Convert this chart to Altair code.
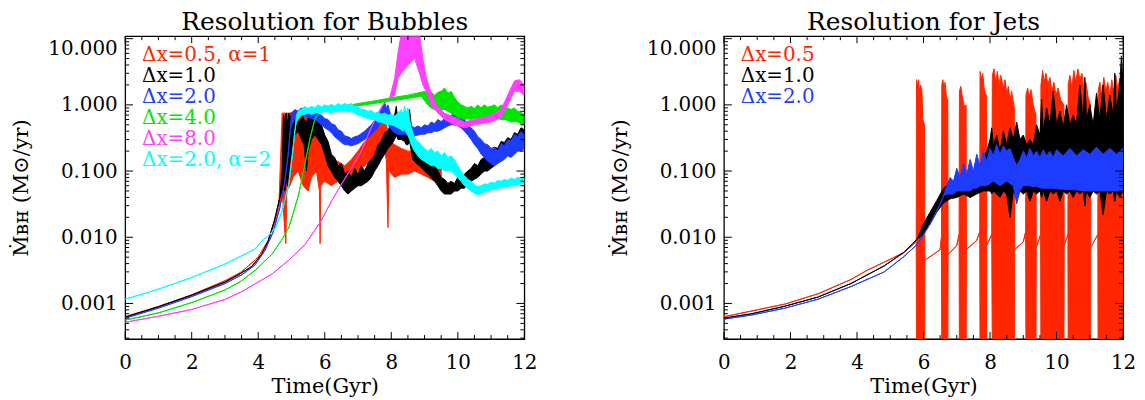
import altair as alt
import pandas as pd

# ---------------- colours ----------------
RED, BLACK, BLUE, GREEN, MAGENTA, CYAN = "#ff2600", "#000000", "#1e3cff", "#00e600", "#ff40ff", "#00ffff"

# ================= LEFT PANEL: Resolution for Bubbles =================
# each run: a smooth early part (time, value) and a noisy band (time, low, high)
RED_L_QT = [0, 1, 2, 3, 3.5, 4.0, 4.3, 4.5, 4.62]
RED_L_QV = [0.00063, 0.0009, 0.00135, 0.0022, 0.003, 0.005, 0.009, 0.017, 0.03]
RED_L_BT = [4.65, 4.72, 4.8, 4.83, 4.86, 4.95, 5.05, 5.2, 5.35, 5.5, 5.6, 5.75, 5.84, 5.86, 5.88, 6.0, 6.2, 6.4,
            6.6, 6.8, 7.0, 7.2, 7.4, 7.6, 7.75, 7.85, 7.9, 7.93, 8.1, 8.3, 8.5, 8.7, 8.9, 9.1, 9.3, 9.5]
RED_L_LO = [0.03, 0.05, 0.012, 0.008, 0.05, 0.06, 0.08, 0.1, 0.06, 0.05, 0.08, 0.1, 0.05, 0.008, 0.06, 0.07, 0.06, 0.07,
            0.06, 0.08, 0.1, 0.12, 0.15, 0.2, 0.25, 0.15, 0.014, 0.1, 0.08, 0.09, 0.09, 0.1, 0.09, 0.08, 0.07, 0.07]
RED_L_HI = [0.08, 0.75, 0.75, 0.75, 0.75, 0.75, 0.78, 0.8, 0.8, 0.75, 0.6, 0.5, 0.4, 0.4, 0.35, 0.2, 0.15, 0.14,
            0.12, 0.15, 0.2, 0.28, 0.35, 0.45, 0.55, 0.5, 0.4, 0.3, 0.25, 0.22, 0.2, 0.2, 0.16, 0.14, 0.12, 0.11]

BLACK_L_QT = [0, 1, 2, 3, 3.4, 3.8, 4.1, 4.3, 4.5, 4.65]
BLACK_L_QV = [0.00062, 0.00089, 0.00133, 0.0021, 0.0027, 0.0036, 0.0055, 0.0087, 0.019, 0.04]
BLACK_L_BT = [4.72, 4.76, 4.8, 4.84, 4.88, 4.92, 4.96, 5.0, 5.05, 5.1, 5.2, 5.3, 5.38, 5.45, 5.5, 5.6, 5.7, 5.8,
              5.9, 6.0, 6.1, 6.2, 6.3, 6.4, 6.5, 6.6, 6.7, 6.8, 6.9, 7.0, 7.1, 7.2, 7.3, 7.4, 7.5, 7.6, 7.7, 7.8,
              7.9, 8.0, 8.1, 8.15, 8.2, 8.3, 8.4, 8.45, 8.5, 8.55, 8.6, 8.65, 8.75, 8.85, 9.0, 9.1, 9.2, 9.3,
              9.4, 9.5, 9.6, 9.7, 9.8, 9.9, 10.0, 10.1, 10.2, 10.3, 10.4, 10.5, 10.6, 10.7, 10.8, 10.9, 11.0,
              11.1, 11.2, 11.3, 11.4, 11.5, 11.6, 11.7, 11.8, 11.9, 12.0]
BLACK_L_LO = [0.05, 0.06, 0.05, 0.08, 0.06, 0.1, 0.15, 0.2, 0.3, 0.35, 0.4, 0.3, 0.25, 0.1, 0.2, 0.3, 0.35, 0.3,
              0.25, 0.18, 0.12, 0.1, 0.08, 0.07, 0.06, 0.05, 0.045, 0.05, 0.055, 0.06, 0.06, 0.065, 0.07, 0.08,
              0.1, 0.12, 0.15, 0.18, 0.22, 0.25, 0.3, 0.35, 0.3, 0.3, 0.28, 0.25, 0.25, 0.28, 0.2, 0.15, 0.13,
              0.12, 0.1, 0.09, 0.08, 0.07, 0.06, 0.05, 0.045, 0.045, 0.045, 0.05, 0.05, 0.055, 0.055, 0.065,
              0.07, 0.075, 0.08, 0.09, 0.1, 0.1, 0.11, 0.12, 0.14, 0.15, 0.18, 0.2, 0.2, 0.22, 0.25, 0.28, 0.3]
BLACK_L_HI = [0.1, 0.7, 0.55, 0.75, 0.5, 0.75, 0.6, 0.75, 0.7, 0.78, 0.7, 0.75, 0.6, 0.55, 0.65, 0.7, 0.6, 0.65,
              0.5, 0.35, 0.28, 0.18, 0.16, 0.12, 0.13, 0.09, 0.1, 0.08, 0.11, 0.09, 0.12, 0.1, 0.13, 0.15, 0.17,
              0.25, 0.28, 0.38, 0.4, 0.55, 0.7, 0.95, 0.6, 0.55, 0.6, 0.45, 0.7, 0.85, 0.5, 0.3, 0.25, 0.2,
              0.16, 0.14, 0.13, 0.12, 0.1, 0.08, 0.075, 0.065, 0.07, 0.065, 0.08, 0.075, 0.09, 0.1, 0.11, 0.13,
              0.12, 0.15, 0.16, 0.19, 0.18, 0.23, 0.22, 0.28, 0.27, 0.32, 0.3, 0.38, 0.36, 0.45, 0.42]

BLUE_L_QT = [0, 1, 2, 3, 3.5, 3.9, 4.2, 4.45, 4.65, 4.8, 4.9, 4.96]
BLUE_L_QV = [0.0006, 0.00085, 0.00127, 0.002, 0.0027, 0.0038, 0.0063, 0.012, 0.028, 0.07, 0.18, 0.4]
BLUE_L_BT = [5.0, 5.1, 5.2, 5.3, 5.4, 5.5, 5.6, 5.7, 5.8, 5.9, 6.0, 6.1, 6.2, 6.3, 6.4, 6.5, 6.6, 6.7, 6.8, 6.9,
             7.0, 7.1, 7.2, 7.3, 7.4, 7.5, 7.6, 7.7, 7.8, 7.85, 7.9, 8.0, 8.1, 8.2, 8.3, 8.4, 8.5, 8.6, 8.7, 8.8,
             8.9, 9.0, 9.1, 9.2, 9.3, 9.4, 9.5, 9.6, 9.7, 9.8, 9.9, 10.0, 10.1, 10.2, 10.3, 10.4, 10.5, 10.6,
             10.7, 10.8, 10.9, 11.0, 11.1, 11.2, 11.3, 11.4, 11.5, 11.6, 11.7, 11.8, 11.9, 12.0]
BLUE_L_LO = [0.5, 0.6, 0.65, 0.7, 0.68, 0.65, 0.62, 0.6, 0.55, 0.5, 0.45, 0.42, 0.38, 0.33, 0.3, 0.27, 0.25, 0.25,
             0.24, 0.25, 0.26, 0.28, 0.3, 0.32, 0.35, 0.4, 0.45, 0.55, 0.6, 0.55, 0.5, 0.42, 0.38, 0.36, 0.35,
             0.36, 0.34, 0.35, 0.34, 0.35, 0.36, 0.36, 0.38, 0.38, 0.4, 0.4, 0.42, 0.45, 0.48, 0.5, 0.5, 0.48,
             0.45, 0.4, 0.35, 0.3, 0.25, 0.22, 0.18, 0.16, 0.14, 0.13, 0.12, 0.13, 0.14, 0.15, 0.17, 0.16, 0.18,
             0.2, 0.2, 0.22]
BLUE_L_HI = [0.75, 0.85, 0.8, 0.9, 0.85, 0.88, 0.82, 0.8, 0.72, 0.7, 0.62, 0.6, 0.52, 0.5, 0.42, 0.4, 0.34, 0.33,
             0.31, 0.33, 0.34, 0.37, 0.4, 0.45, 0.5, 0.58, 0.7, 0.85, 1.1, 0.9, 1.0, 0.65, 0.55, 0.5, 0.48, 0.5,
             0.46, 0.48, 0.45, 0.48, 0.45, 0.5, 0.48, 0.55, 0.52, 0.6, 0.56, 0.62, 0.65, 0.7, 0.72, 0.7, 0.68,
             0.6, 0.5, 0.45, 0.4, 0.33, 0.3, 0.26, 0.25, 0.22, 0.23, 0.2, 0.26, 0.24, 0.3, 0.28, 0.36, 0.33, 0.4,
             0.35]

GREEN_L_QT = [0, 1, 2, 3, 3.5, 3.92, 4.42, 4.7, 4.92, 5.1, 5.22, 5.42, 5.55, 5.7, 5.85, 6.0, 6.5]
GREEN_L_QV = [0.00056, 0.00072, 0.00103, 0.0016, 0.0022, 0.0032, 0.0056, 0.009, 0.014, 0.028, 0.045, 0.14, 0.3,
              0.6, 0.8, 0.85, 0.93]
GREEN_L_BT = [7.0, 7.5, 8.0, 8.5, 8.9, 9.0, 9.1, 9.2, 9.3, 9.4, 9.5, 9.6, 9.7, 9.8, 9.9, 10.0, 10.1, 10.2, 10.3,
              10.4, 10.5, 10.6, 10.7, 10.8, 10.9, 11.0, 11.1, 11.2, 11.3, 11.4, 11.5, 11.6, 11.7, 11.8, 11.9, 12.0]
GREEN_L_LO = [0.97, 1.05, 1.15, 1.25, 1.35, 1.15, 1.0, 0.9, 0.85, 0.8, 0.85, 0.85, 0.8, 0.75, 0.7, 0.65, 0.62,
              0.6, 0.62, 0.6, 0.62, 0.62, 0.64, 0.65, 0.62, 0.6, 0.62, 0.62, 0.6, 0.6, 0.58, 0.55, 0.56, 0.55,
              0.52, 0.5]
GREEN_L_HI = [1.05, 1.15, 1.28, 1.4, 1.55, 1.6, 1.5, 1.55, 1.4, 1.55, 1.6, 1.8, 1.5, 1.6, 1.3, 1.1, 1.0, 0.95,
              0.9, 0.95, 0.88, 1.0, 0.9, 1.0, 0.92, 0.95, 1.0, 0.9, 1.0, 0.92, 0.9, 0.85, 0.9, 0.8, 0.78, 0.7]

MAG_L_QT = [0, 1, 2, 3, 3.5, 3.92, 4.42, 4.92, 5.42, 5.9, 6.2, 6.5, 6.8, 7.1, 7.35, 7.6, 7.75, 7.95]
MAG_L_QV = [0.00052, 0.00064, 0.00081, 0.00115, 0.0015, 0.002, 0.0028, 0.0045, 0.0079, 0.018, 0.035, 0.063, 0.11,
            0.2, 0.4, 0.75, 1.0, 1.26]
MAG_L_BT = [8.1, 8.2, 8.3, 8.5, 8.7, 8.85, 8.95, 9.05, 9.2, 9.35, 9.6, 9.9, 10.2, 10.5, 11.0, 11.3, 11.5, 11.7,
            11.85, 12.0]
MAG_L_LO = [1.4, 2.5, 3, 4, 5, 3, 2, 1.6, 1.0, 0.8, 0.6, 0.5, 0.45, 0.5, 0.55, 0.65, 1.0, 1.6, 1.6, 1.4]
MAG_L_HI = [2.5, 6, 12, 12, 12, 12, 5, 2.6, 1.5, 1.0, 0.75, 0.65, 0.55, 0.6, 0.7, 0.85, 1.4, 2.3, 2.4, 2.0]

CYAN_L_QT = [0, 0.93, 1.93, 2.93, 3.52, 3.92, 4.12, 4.32, 4.52, 4.72, 4.92, 5.02, 5.1]
CYAN_L_QV = [0.00116, 0.0016, 0.0024, 0.0038, 0.0053, 0.0067, 0.0089, 0.0106, 0.014, 0.025, 0.063, 0.16, 0.4]
CYAN_L_BT = [5.15, 5.2, 5.3, 5.4, 5.5, 5.6, 5.7, 5.8, 5.9, 6.0, 6.1, 6.2, 6.3, 6.4, 6.5, 6.6, 6.7, 6.8, 6.9, 7.0,
             7.1, 7.2, 7.3, 7.4, 7.5, 7.6, 7.7, 7.8, 7.9, 8.0, 8.1, 8.2, 8.3, 8.35, 8.4, 8.45, 8.5, 8.55, 8.6,
             8.7, 8.8, 8.9, 9.0, 9.1, 9.2, 9.3, 9.4, 9.5, 9.6, 9.7, 9.8, 9.9, 10.0, 10.1, 10.2, 10.3, 10.4,
             10.5, 10.6, 10.7, 10.8, 10.9, 11.0, 11.1, 11.2, 11.3, 11.4, 11.5, 11.6, 11.7, 11.8, 11.9, 12.0]
CYAN_L_LO = [0.55, 0.6, 0.7, 0.72, 0.75, 0.72, 0.75, 0.78, 0.75, 0.8, 0.78, 0.75, 0.8, 0.78, 0.8, 0.82, 0.78,
             0.8, 0.75, 0.7, 0.68, 0.65, 0.62, 0.6, 0.6, 0.55, 0.55, 0.52, 0.5, 0.5, 0.48, 0.45, 0.42, 0.4, 0.42,
             0.38, 0.35, 0.3, 0.25, 0.2, 0.17, 0.15, 0.14, 0.13, 0.12, 0.12, 0.11, 0.11, 0.1, 0.1, 0.1, 0.09,
             0.08, 0.07, 0.06, 0.055, 0.05, 0.046, 0.044, 0.046, 0.048, 0.05, 0.052, 0.053, 0.055, 0.056, 0.057,
             0.058, 0.06, 0.06, 0.062, 0.064, 0.065]
CYAN_L_HI = [0.7, 0.8, 0.85, 0.95, 0.88, 0.95, 0.9, 1.0, 0.92, 1.0, 0.95, 1.02, 0.95, 1.05, 0.98, 1.05, 1.0,
             1.05, 0.95, 0.95, 0.85, 0.85, 0.8, 0.82, 0.75, 0.78, 0.72, 0.75, 0.7, 0.72, 0.68, 0.75, 0.85, 0.7,
             0.95, 0.75, 0.9, 0.6, 0.45, 0.32, 0.28, 0.25, 0.22, 0.2, 0.22, 0.19, 0.2, 0.17, 0.19, 0.16, 0.17,
             0.15, 0.12, 0.1, 0.085, 0.075, 0.07, 0.062, 0.058, 0.06, 0.064, 0.063, 0.068, 0.066, 0.072, 0.07,
             0.075, 0.072, 0.078, 0.075, 0.08, 0.078, 0.08]

# ================= RIGHT PANEL: Resolution for Jets =================
# red: smooth early part, jet-bursts (bars reaching below the axis floor) and the low rate between bursts
RED_R_QT = [0, 0.84, 1.84, 2.83, 3.82, 4.32, 5.02, 5.41, 5.71, 5.78]
RED_R_QV = [0.00063, 0.00077, 0.00098, 0.0014, 0.0023, 0.0032, 0.0047, 0.0059, 0.0079, 0.0088]
RED_R_FLOOR = 1e-4
RED_R_BAR_T = [5.79, 5.82, 5.85, 5.88, 5.91, 5.95, 5.98, 6.03,
               6.55, 6.58, 6.62, 6.65, 6.69, 6.73,
               7.08, 7.12, 7.16, 7.2, 7.24, 7.28,
               7.7, 7.74, 7.78, 7.82, 7.86, 7.89,
               8.07, 8.12, 8.17, 8.22, 8.27, 8.32, 8.4, 8.45, 8.5, 8.55, 8.6, 8.65, 8.73,
               9.08, 9.13, 9.18, 9.23, 9.3, 9.38,
               9.53, 9.58, 9.63, 9.68, 9.74, 9.8, 9.86, 9.92, 9.98, 10.05, 10.12, 10.22,
               10.35, 10.4, 10.46, 10.52, 10.58, 10.64, 10.7, 10.76, 10.82, 10.88, 10.95, 11.02,
               11.25, 11.3, 11.36, 11.42, 11.48, 11.54, 11.6, 11.66, 11.72, 11.78, 11.84, 11.9, 11.96, 12.0]
RED_R_BAR_TOP = [2.4, 1.9, 2.4, 1.6, 2.0, 1.7, 0.6, 0.5,
                 2.0, 2.4, 1.8, 2.2, 1.3, 1.2,
                 1.6, 1.9, 1.4, 1.1, 0.9, 1.0,
                 3.2, 2.4, 3.0, 1.8, 1.5, 1.4,
                 2.8, 3.5, 2.2, 3.2, 2.0, 2.8, 1.8, 2.4, 1.5, 1.9, 1.2, 1.6, 0.9,
                 1.4, 1.8, 1.3, 1.7, 1.0, 0.7,
                 2.0, 3.3, 2.2, 3.0, 2.0, 2.6, 1.6, 2.2, 1.4, 1.8, 1.2, 1.0,
                 2.0, 2.8, 1.8, 3.3, 2.2, 3.5, 2.4, 3.0, 1.8, 2.2, 1.3, 1.0,
                 1.6, 2.2, 1.4, 2.6, 1.6, 2.2, 1.3, 2.4, 1.5, 2.8, 1.7, 2.5, 1.8, 2.2]
RED_R_LT = [6.04, 6.3, 6.5, 6.54, 6.74, 7.0, 7.07, 7.29, 7.6, 7.69, 7.9, 8.05, 8.74, 9.0, 9.07, 9.39, 9.52,
            10.23, 10.34, 11.03, 11.24]
RED_R_LV = [0.0045, 0.0055, 0.0065, 0.01, 0.0055, 0.0075, 0.011, 0.0065, 0.009, 0.012, 0.0075, 0.011, 0.0065,
            0.0085, 0.012, 0.007, 0.011, 0.0075, 0.011, 0.007, 0.011]

BLACK_R_QT = [0, 0.84, 1.84, 2.83, 3.82, 4.82, 5.41, 5.81]
BLACK_R_QV = [0.0006, 0.0007, 0.00091, 0.00125, 0.002, 0.0037, 0.0059, 0.0094]
BLACK_R_BT = [6.0, 6.2, 6.4, 6.6, 6.8, 7.0, 7.2, 7.4, 7.6, 7.8, 7.9, 8.0, 8.05, 8.1, 8.2, 8.3, 8.4, 8.5, 8.6, 8.7,
              8.8, 8.9, 9.0, 9.1, 9.2, 9.3, 9.4, 9.5, 9.55, 9.6, 9.7, 9.8, 9.9, 10.0, 10.1, 10.2, 10.3, 10.4,
              10.5, 10.6, 10.7, 10.8, 10.85, 10.9, 11.0, 11.1, 11.2, 11.3, 11.4, 11.5, 11.6, 11.7, 11.75, 11.8,
              11.9, 11.95, 12.0]
BLACK_R_LO = [0.011, 0.016, 0.024, 0.033, 0.038, 0.04, 0.045, 0.04, 0.045, 0.05, 0.05, 0.05, 0.045, 0.05, 0.045,
              0.04, 0.05, 0.045, 0.02, 0.05, 0.04, 0.05, 0.045, 0.05, 0.035, 0.05, 0.045, 0.05, 0.04, 0.05,
              0.035, 0.05, 0.045, 0.05, 0.035, 0.05, 0.045, 0.05, 0.04, 0.05, 0.045, 0.05, 0.03, 0.05, 0.04,
              0.05, 0.045, 0.05, 0.022, 0.05, 0.045, 0.05, 0.035, 0.05, 0.04, 0.045, 0.05]
BLACK_R_HI = [0.016, 0.024, 0.036, 0.055, 0.065, 0.075, 0.07, 0.08, 0.1, 0.15, 0.2, 0.3, 0.45, 0.25, 0.35, 0.2,
              0.4, 0.25, 0.45, 0.3, 0.55, 0.3, 0.35, 0.25, 0.3, 0.25, 0.5, 0.35, 1.2, 0.4, 0.9, 0.5, 1.6, 0.5,
              0.8, 0.45, 1.0, 0.5, 0.7, 0.5, 2.0, 0.6, 2.6, 0.6, 1.0, 0.5, 1.5, 0.6, 2.0, 0.6, 1.4, 0.7, 3.0,
              0.8, 2.0, 5.5, 2.0]

BLUE_R_QT = [0, 0.84, 1.84, 2.83, 3.82, 4.82, 5.41, 5.81, 6.2, 6.5, 6.6]
BLUE_R_QV = [0.00058, 0.00067, 0.00085, 0.00116, 0.0018, 0.003, 0.0051, 0.0078, 0.0159, 0.0316, 0.042]
BLUE_R_BT = [6.7, 6.8, 6.9, 7.0, 7.1, 7.2, 7.3, 7.4, 7.5, 7.6, 7.7, 7.8, 7.9, 8.0, 8.1, 8.2, 8.3, 8.4, 8.5, 8.6,
             8.7, 8.8, 8.9, 9.0, 9.1, 9.2, 9.3, 9.4, 9.5, 9.6, 9.7, 9.8, 9.9, 10.0, 10.2, 10.4, 10.6, 10.8,
             11.0, 11.2, 11.4, 11.6, 11.8, 12.0]
BLUE_R_LO = [0.045, 0.045, 0.045, 0.05, 0.05, 0.05, 0.05, 0.05, 0.055, 0.055, 0.06, 0.06, 0.06, 0.065, 0.07, 0.065,
             0.06, 0.065, 0.07, 0.065, 0.06, 0.032, 0.05, 0.06, 0.06, 0.06, 0.058, 0.058, 0.056, 0.055, 0.055,
             0.055, 0.055, 0.054, 0.053, 0.052, 0.052, 0.05, 0.05, 0.05, 0.05, 0.05, 0.05, 0.05]
BLUE_R_HI = [0.06, 0.08, 0.07, 0.11, 0.08, 0.13, 0.09, 0.15, 0.1, 0.18, 0.12, 0.2, 0.14, 0.22, 0.17, 0.25, 0.18,
             0.24, 0.2, 0.22, 0.16, 0.12, 0.15, 0.2, 0.16, 0.22, 0.17, 0.2, 0.16, 0.21, 0.17, 0.2, 0.16, 0.21,
             0.17, 0.22, 0.17, 0.21, 0.18, 0.23, 0.18, 0.22, 0.18, 0.22]

# legends and titles
LEG_L = ["Δx=0.5, α=1", "Δx=1.0", "Δx=2.0", "Δx=4.0", "Δx=8.0", "Δx=2.0, α=2"]
LEG_L_COL = [RED, BLACK, BLUE, GREEN, MAGENTA, CYAN]
LEG_R = ["Δx=0.5", "Δx=1.0", "Δx=2.0"]
LEG_R_COL = [RED, BLACK, BLUE]
TITLE_L = "Resolution for Bubbles"
TITLE_R = "Resolution for Jets"

# axes ticks
X_MAJOR = [0, 2, 4, 6, 8, 10, 12]
X_MINOR = [0.5, 1, 1.5, 2.5, 3, 3.5, 4.5, 5, 5.5, 6.5, 7, 7.5, 8.5, 9, 9.5, 10.5, 11, 11.5]
Y_MAJOR = [0.001, 0.01, 0.1, 1.0, 10.0]
Y_MINOR = [m * d for d in (0.0001, 0.001, 0.01, 0.1, 1.0) for m in range(2, 10) if 0.0003 <= m * d <= 10.5]

# ---------------- layout constants ----------------
PW, PH = 402, 305
FONT = "DejaVu Serif"

XS = alt.Scale(domain=[0, 12], nice=False, zero=False)
YS = alt.Scale(type="log", domain=[0.00029, 10.9], nice=False)
XAXIS = alt.Axis(values=X_MAJOR, format="d", title="Time(Gyr)", ticks=False, domain=False, grid=False,
                 labelPadding=14, titlePadding=3, labelFlush=False)
YAXIS = alt.Axis(values=Y_MAJOR, format=".3f", title="Ṁʙʜ (M⊙/yr)", ticks=False, domain=False, grid=False,
                 labelPadding=8, titlePadding=16, labelFlush=4)


def xe(f):
    return alt.X(f, type="quantitative", scale=XS, axis=XAXIS)


def ye(f):
    return alt.Y(f, type="quantitative", scale=YS, axis=YAXIS)


def run(qt, qv, bt, blo, bhi):
    df = pd.DataFrame({"t": list(qt) + list(bt), "lo": list(qv) + list(blo), "hi": list(qv) + list(bhi)})
    return df.sort_values("t", kind="stable")


def series_layer(df, col):
    return alt.Chart(df).mark_area(fill=col, stroke=col, strokeWidth=1.0, clip=True,
                                   interpolate="linear").encode(x=xe("t"), y=ye("lo"), y2=alt.Y2("hi"))


def tick_layers():
    out = []
    for vals, ln in ((X_MAJOR, 7), (X_MINOR, 4)):
        d = pd.DataFrame({"v": vals})
        out.append(alt.Chart(d).mark_rule(color="black", strokeWidth=1).encode(
            x=xe("v"), y=alt.value(PH), y2=alt.value(PH - ln)))
        out.append(alt.Chart(d).mark_rule(color="black", strokeWidth=1).encode(
            x=xe("v"), y=alt.value(0), y2=alt.value(ln)))
    for vals, ln in ((Y_MAJOR, 8), (Y_MINOR, 4)):
        d = pd.DataFrame({"v": vals})
        out.append(alt.Chart(d).mark_rule(color="black", strokeWidth=1).encode(
            y=ye("v"), x=alt.value(0), x2=alt.value(ln)))
        out.append(alt.Chart(d).mark_rule(color="black", strokeWidth=1).encode(
            y=ye("v"), x=alt.value(PW), x2=alt.value(PW - ln)))
    return out


def legend_layers(labels, cols):
    out = []
    for i, (lab, col) in enumerate(zip(labels, cols)):
        out.append(alt.Chart(pd.DataFrame({"label": [lab]})).mark_text(
            align="left", baseline="middle", font=FONT, fontSize=20, color=col).encode(
            text="label:N", x=alt.value(17), y=alt.value(19 + 21.2 * i)))
    return out


def title_layer(title):
    return alt.Chart(pd.DataFrame({"label": [title]})).mark_text(
        align="center", baseline="top", font=FONT, fontSize=25, color="black").encode(
        text="label:N", x=alt.value(PW / 2), y=alt.value(-26))


def panel(series, labels, cols, title):
    layers = [series_layer(df, c) for df, c in series]
    layers += tick_layers()
    layers += legend_layers(labels, cols)
    layers.append(title_layer(title))
    return alt.layer(*layers).properties(width=PW, height=PH)


left = panel([
    (run(RED_L_QT, RED_L_QV, RED_L_BT, RED_L_LO, RED_L_HI), RED),
    (run(BLACK_L_QT, BLACK_L_QV, BLACK_L_BT, BLACK_L_LO, BLACK_L_HI), BLACK),
    (run(BLUE_L_QT, BLUE_L_QV, BLUE_L_BT, BLUE_L_LO, BLUE_L_HI), BLUE),
    (run(GREEN_L_QT, GREEN_L_QV, GREEN_L_BT, GREEN_L_LO, GREEN_L_HI), GREEN),
    (run(MAG_L_QT, MAG_L_QV, MAG_L_BT, MAG_L_LO, MAG_L_HI), MAGENTA),
    (run(CYAN_L_QT, CYAN_L_QV, CYAN_L_BT, CYAN_L_LO, CYAN_L_HI), CYAN),
], LEG_L, LEG_L_COL, TITLE_L)

red_r = run(RED_R_QT + RED_R_LT, RED_R_QV + RED_R_LV, RED_R_BAR_T,
            [RED_R_FLOOR] * len(RED_R_BAR_T), RED_R_BAR_TOP)

right = panel([
    (red_r, RED),
    (run(BLACK_R_QT, BLACK_R_QV, BLACK_R_BT, BLACK_R_LO, BLACK_R_HI), BLACK),
    (run(BLUE_R_QT, BLUE_R_QV, BLUE_R_BT, BLUE_R_LO, BLUE_R_HI), BLUE),
], LEG_R, LEG_R_COL, TITLE_R)

chart = alt.hconcat(left, right, spacing=201, bounds="flush").configure_view(
    stroke="black", strokeWidth=1.3
).configure_axis(
    labelFont=FONT, labelFontSize=20, labelColor="black",
    titleFont=FONT, titleFontSize=21, titleFontWeight="normal", titleColor="black"
).properties(
    padding={"left": 2, "top": 0, "right": 0, "bottom": 0},
    background="white"
)

chart.save("out.html", embed_options={"renderer": "svg", "actions": False})
